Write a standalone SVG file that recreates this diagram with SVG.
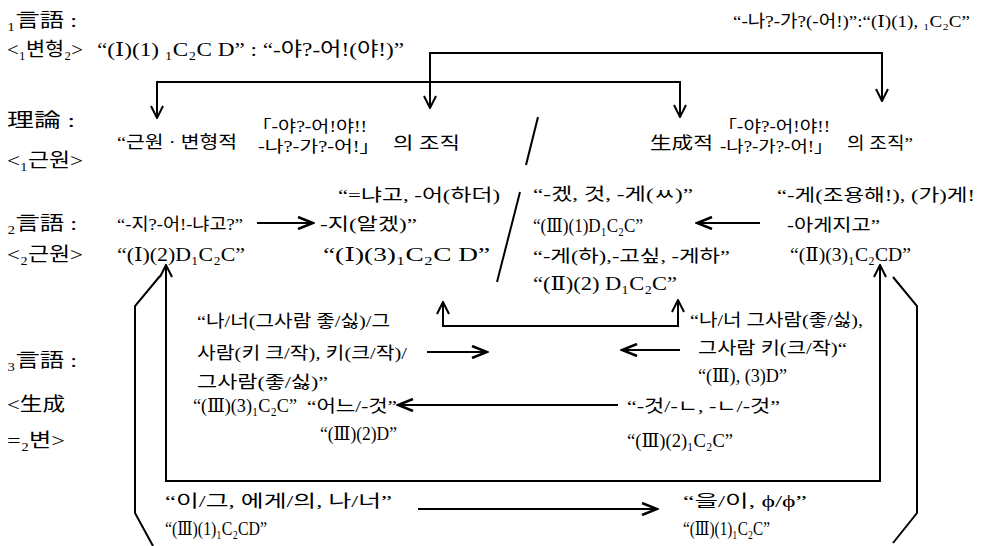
<svg xmlns="http://www.w3.org/2000/svg" width="982" height="546" viewBox="0 0 982 546">
<style>
text{font-family:"Liberation Serif","DejaVu Serif","Noto Sans CJK KR",serif;font-size:17px;fill:#000}
.lb{font-size:19px}
.sm{font-size:16px}
.L{font-size:19px}
.ln{fill:none;stroke:#000;stroke-width:2}
.ar{fill:none;stroke:#000;stroke-width:2;marker-end:url(#h)}
</style>
<defs>
<marker id="v" markerUnits="userSpaceOnUse" markerWidth="14" markerHeight="14" viewBox="0 0 14 14" refX="13" refY="7" orient="auto-start-reverse"><path d="M1,1 L13,7 L1,13" fill="none" stroke="#000" stroke-width="2"/></marker>
<marker id="h" markerUnits="userSpaceOnUse" markerWidth="18" markerHeight="14" viewBox="0 0 18 14" refX="16" refY="7" orient="auto"><path d="M1,1 L16,7 L1,13" fill="none" stroke="#000" stroke-width="2.6"/></marker>
</defs>
<rect width="982" height="546" fill="#fff"/>

<g id="connectors">
<path class="ln" d="M430,108 L430,53 L882,53 L882,101" marker-start="url(#v)" marker-end="url(#v)"/>
<path class="ln" d="M157,118 L157,82 L680,82 L680,117" marker-start="url(#v)" marker-end="url(#v)"/>
<path class="ln" d="M538,117 L526,165"/>
<path class="ln" d="M520,192 L497,282"/>
<path class="ar" d="M257,223 L313,223"/>
<path class="ar" d="M760,223 L697,223"/>
<path class="ln" d="M443,302 L443,326 L678,326 L678,300" marker-start="url(#v)" marker-end="url(#v)"/>
<path class="ar" d="M427,352 L487,352"/>
<path class="ar" d="M680,350 L622,350"/>
<path class="ar" d="M618,405 L398,405"/>
<path class="ar" d="M418,509 L657,509"/>
<path class="ln" d="M166,265 L166,481 L880,481 L880,265" marker-start="url(#v)" marker-end="url(#v)"/>
<path class="ln" d="M160,276 L135,306 L135,513 L153,546"/>
<path class="ln" d="M893,277 L917,306 L917,513 L893,543"/>
</g>

<g id="label-lang1"><text class="lb" x="7" y="27" textLength="70" lengthAdjust="spacingAndGlyphs">₁言語 :</text></g>
<g id="label-var"><text class="lb" x="7" y="56" textLength="76" lengthAdjust="spacingAndGlyphs">&lt;₁변형₂&gt;</text></g>
<g id="label-theory"><text class="lb" x="7" y="127" textLength="68" lengthAdjust="spacingAndGlyphs">理論 :</text></g>
<g id="label-root1"><text class="lb" x="7" y="167" textLength="76" lengthAdjust="spacingAndGlyphs">&lt;₁근원&gt;</text></g>
<g id="label-lang2"><text class="lb" x="7" y="230" textLength="70" lengthAdjust="spacingAndGlyphs">₂言語 :</text></g>
<g id="label-root2"><text class="lb" x="7" y="261" textLength="76" lengthAdjust="spacingAndGlyphs">&lt;₂근원&gt;</text></g>
<g id="label-lang3"><text class="lb" x="7" y="367" textLength="70" lengthAdjust="spacingAndGlyphs">₃言語 :</text></g>
<g id="label-gen"><text class="lb" x="7" y="411" textLength="58" lengthAdjust="spacingAndGlyphs">&lt;生成</text><text class="lb" x="7" y="447" textLength="58" lengthAdjust="spacingAndGlyphs">=₂변&gt;</text></g>

<g id="n-top"><text x="733" y="27" textLength="237" lengthAdjust="spacingAndGlyphs">“-나?-가?(-어!)”:“(Ⅰ)(1), ₁C₂C”</text></g>
<g id="n-var"><text class="L" x="97" y="56" textLength="307" lengthAdjust="spacingAndGlyphs">“(Ⅰ)(1) ₁C₂C D” : “-야?-어!(야!)”</text></g>

<g id="n-theory-left">
<text x="117" y="148" textLength="120" lengthAdjust="spacingAndGlyphs">“근원 · 변형적</text>
<text class="sm" x="252" y="132" textLength="115" lengthAdjust="spacingAndGlyphs">「-야?-어!야!!</text>
<text class="sm" x="258" y="152" textLength="122" lengthAdjust="spacingAndGlyphs">-나?-가?-어!」</text>
<text x="393" y="149" textLength="67" lengthAdjust="spacingAndGlyphs">의 조직</text>
</g>
<g id="n-theory-right">
<text x="650" y="149" textLength="63" lengthAdjust="spacingAndGlyphs">生成적</text>
<text class="sm" x="718" y="132" textLength="112" lengthAdjust="spacingAndGlyphs">「-야?-어!야!!</text>
<text class="sm" x="720" y="152" textLength="113" lengthAdjust="spacingAndGlyphs">-나?-가?-어!」</text>
<text x="847" y="149" textLength="66" lengthAdjust="spacingAndGlyphs">의 조직”</text>
</g>

<g id="n-l2-a">
<text x="117" y="230" textLength="126" lengthAdjust="spacingAndGlyphs">“-지?-어!-냐고?”</text>
<text class="L" x="117" y="261" textLength="128" lengthAdjust="spacingAndGlyphs">“(Ⅰ)(2)D₁C₂C”</text>
</g>
<g id="n-l2-b">
<text x="338" y="201" textLength="162" lengthAdjust="spacingAndGlyphs">“=냐고, -어(하더)</text>
<text x="320" y="230" textLength="97" lengthAdjust="spacingAndGlyphs">-지(알겠)”</text>
<text class="L" x="323" y="261" textLength="167" lengthAdjust="spacingAndGlyphs">“(Ⅰ)(3)₁C₂C D”</text>
</g>
<g id="n-l2-c">
<text x="533" y="200" textLength="160" lengthAdjust="spacingAndGlyphs">“-겠, 것, -게(ㅆ)”</text>
<text class="L" x="533" y="232" textLength="110" lengthAdjust="spacingAndGlyphs">“(Ⅲ)(1)D₁C₂C”</text>
<text x="533" y="262" textLength="197" lengthAdjust="spacingAndGlyphs">“-게(하),-고싶, -게하”</text>
<text class="L" x="533" y="290" textLength="144" lengthAdjust="spacingAndGlyphs">“(Ⅱ)(2) D₁C₂C”</text>
</g>
<g id="n-l2-d">
<text x="777" y="201" textLength="198" lengthAdjust="spacingAndGlyphs">“-게(조용해!), (가)게!</text>
<text x="787" y="231" textLength="93" lengthAdjust="spacingAndGlyphs">-아게지고”</text>
<text class="L" x="790" y="261" textLength="121" lengthAdjust="spacingAndGlyphs">“(Ⅱ)(3)₁C₂CD”</text>
</g>

<g id="n-l3-a">
<text x="197" y="327" textLength="193" lengthAdjust="spacingAndGlyphs">“나/너(그사람 좋/싫)/그</text>
<text x="197" y="359" textLength="210" lengthAdjust="spacingAndGlyphs">사람(키 크/작), 키(크/작)/</text>
<text x="197" y="388" textLength="131" lengthAdjust="spacingAndGlyphs">그사람(좋/싫)”</text>
<text class="L" x="193" y="412" textLength="104" lengthAdjust="spacingAndGlyphs">“(Ⅲ)(3)₁C₂C”</text>
</g>
<g id="n-l3-b">
<text x="307" y="412" textLength="90" lengthAdjust="spacingAndGlyphs">“어느/-것”</text>
<text class="L" x="320" y="440" textLength="77" lengthAdjust="spacingAndGlyphs">“(Ⅲ)(2)D”</text>
</g>
<g id="n-l3-c">
<text x="690" y="326" textLength="173" lengthAdjust="spacingAndGlyphs">“나/너 그사람(좋/싫),</text>
<text x="698" y="354" textLength="149" lengthAdjust="spacingAndGlyphs">그사람 키(크/작)“</text>
<text class="L" x="698" y="382" textLength="89" lengthAdjust="spacingAndGlyphs">“(Ⅲ), (3)D”</text>
</g>
<g id="n-l3-d">
<text x="627" y="412" textLength="153" lengthAdjust="spacingAndGlyphs">“-것/-ㄴ, -ㄴ/-것”</text>
<text class="L" x="627" y="447" textLength="106" lengthAdjust="spacingAndGlyphs">“(Ⅲ)(2)₁C₂C”</text>
</g>
<g id="n-l3-e">
<text x="165" y="507" textLength="227" lengthAdjust="spacingAndGlyphs">“이/그, 에게/의, 나/너”</text>
<text class="L" x="165" y="535" textLength="102" lengthAdjust="spacingAndGlyphs">“(Ⅲ)(1)₁C₂CD”</text>
</g>
<g id="n-l3-f">
<text x="683" y="507" textLength="124" lengthAdjust="spacingAndGlyphs">“을/이, ϕ/ϕ”</text>
<text class="L" x="683" y="535" textLength="87" lengthAdjust="spacingAndGlyphs">“(Ⅲ)(1)₁C₂C”</text>
</g>
</svg>
